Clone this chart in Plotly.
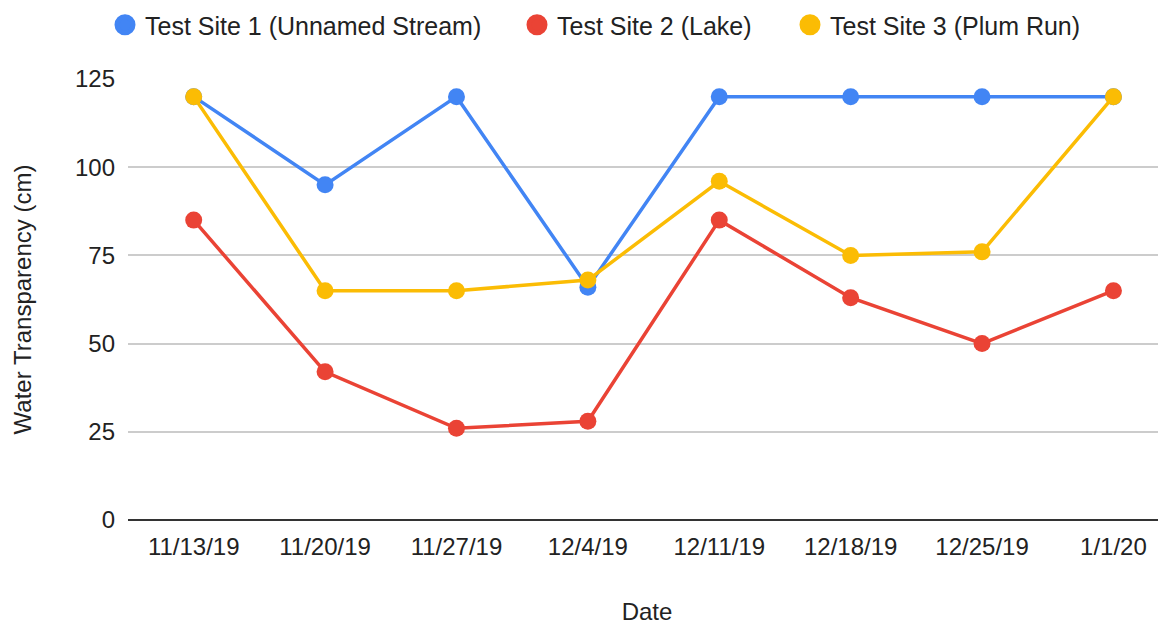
import plotly.graph_objects as go

dates = ["11/13/19", "11/20/19", "11/27/19", "12/4/19", "12/11/19", "12/18/19", "12/25/19", "1/1/20"]
site1 = [120, 95, 120, 66, 120, 120, 120, 120]
site2 = [85, 42, 26, 28, 85, 63, 50, 65]
site3 = [120, 65, 65, 68, 96, 75, 76, 120]

names = ["Test Site 1 (Unnamed Stream)", "Test Site 2 (Lake)", "Test Site 3 (Plum Run)"]
colors = ["#4285F4", "#EA4335", "#FBBC04"]
legend_ids = ["legend", "legend2", "legend3"]
legend_x_px = [97, 509, 782]  # left edge of each legend box

W, H = 1166, 624

fig = go.Figure()
for name, vals, c in zip(names, [site1, site2, site3], colors):
    fig.add_trace(go.Scatter(
        x=list(range(len(dates))), y=vals, name=name, mode="lines+markers",
        line=dict(color=c, width=3.5),
        marker=dict(color=c, size=17),
        showlegend=False,
    ))
# legend entries (circle symbols only)
for name, c, lg in zip(names, colors, legend_ids):
    fig.add_trace(go.Scatter(
        x=[None], y=[None], name=name, mode="markers",
        marker=dict(color=c, size=22, line=dict(color=c, width=8)),
        showlegend=True, legend=lg,
    ))

legend_common = dict(orientation="h", xanchor="left", y=1 - 17 / H, yanchor="middle",
                     yref="container", xref="container",
                     font=dict(size=25, color="#222222"), bgcolor="rgba(0,0,0,0)")
legend_layout = {}
for lg, px in zip(legend_ids, legend_x_px):
    legend_layout[lg] = dict(legend_common, x=px / W)

fig.update_layout(
    width=W, height=H,
    paper_bgcolor="white", plot_bgcolor="white",
    margin=dict(l=120, r=8, t=71, b=112),
    font=dict(family="Liberation Sans, Arial, sans-serif", size=24, color="#222222"),
    showlegend=True,
    **legend_layout,
    xaxis=dict(
        tickmode="array", tickvals=list(range(len(dates))), ticktext=dates,
        range=[-0.5, 7.4], showgrid=False, zeroline=False, showline=False,
        ticks="", ticklabelstandoff=10,
        title=dict(text="Date", font=dict(size=24), standoff=44),
    ),
    yaxis=dict(
        range=[0, 125], tickvals=[0, 25, 50, 75, 100, 125],
        showgrid=True, gridcolor="#CCCCCC", gridwidth=1.5,
        zeroline=True, zerolinecolor="#333333", zerolinewidth=2,
        showline=False, ticks="", ticklabelstandoff=12,
        title=dict(text="Water Transparency (cm)", font=dict(size=24), standoff=36),
    ),
)

fig.write_html("out.html")
